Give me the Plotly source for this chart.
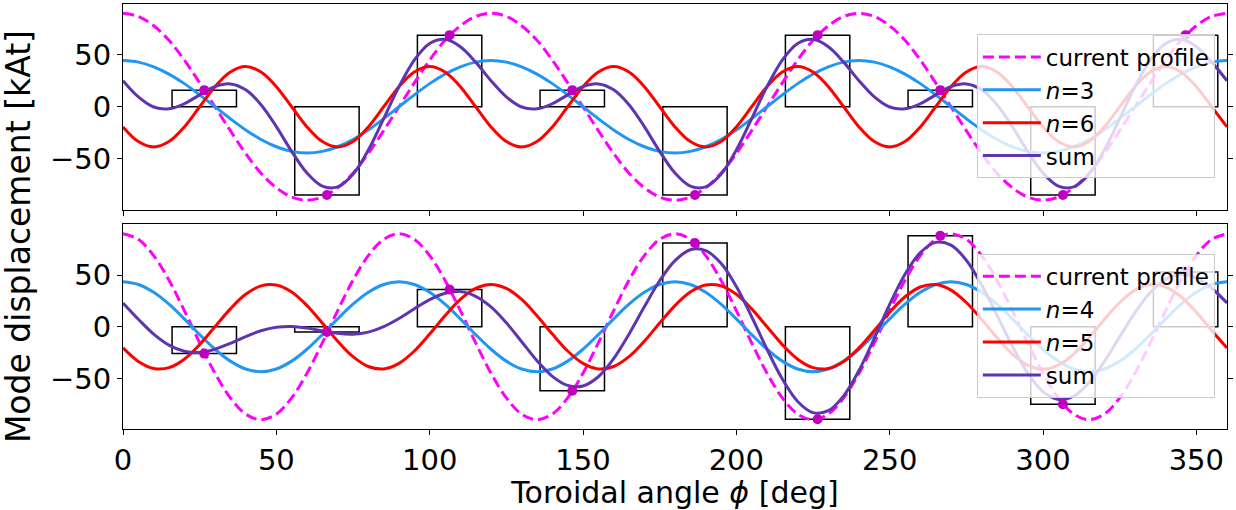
import plotly.graph_objects as go
from plotly.subplots import make_subplots

# ---------------- data ----------------
phi = list(range(0, 361, 5))

# top panel (n = 3 / 6)
top_profile = [90, 87, 78, 64, 45, 23, 0, -23, -45, -64, -78, -87, -90, -87, -78, -64, -45, -23, 0, 23, 45, 64, 78, 87,
               90, 87, 78, 64, 45, 23, 0, -23, -45, -64, -78, -87, -90, -87, -78, -64, -45, -23, 0, 23, 45, 64, 78, 87,
               90, 87, 78, 64, 45, 23, 0, -23, -45, -64, -78, -87, -90, -87, -78, -64, -45, -23, 0, 23, 45, 64, 78, 87,
               90]
top_n3 = [44.5, 43.0, 38.5, 31.5, 22.3, 11.5, 0, -11.5, -22.3, -31.5, -38.5, -43.0, -44.5, -43.0, -38.5, -31.5, -22.3, -11.5, 0, 11.5, 22.3, 31.5, 38.5, 43.0,
          44.5, 43.0, 38.5, 31.5, 22.3, 11.5, 0, -11.5, -22.3, -31.5, -38.5, -43.0, -44.5, -43.0, -38.5, -31.5, -22.3, -11.5, 0, 11.5, 22.3, 31.5, 38.5, 43.0,
          44.5, 43.0, 38.5, 31.5, 22.3, 11.5, 0, -11.5, -22.3, -31.5, -38.5, -43.0, -44.5, -43.0, -38.5, -31.5, -22.3, -11.5, 0, 11.5, 22.3, 31.5, 38.5, 43.0,
          44.5]
top_n6 = [-19.4, -33.5, -38.7, -33.5, -19.4, 0, 19.4, 33.5, 38.7, 33.5, 19.4, 0,
          -19.4, -33.5, -38.7, -33.5, -19.4, 0, 19.4, 33.5, 38.7, 33.5, 19.4, 0,
          -19.4, -33.5, -38.7, -33.5, -19.4, 0, 19.4, 33.5, 38.7, 33.5, 19.4, 0,
          -19.4, -33.5, -38.7, -33.5, -19.4, 0, 19.4, 33.5, 38.7, 33.5, 19.4, 0,
          -19.4, -33.5, -38.7, -33.5, -19.4, 0, 19.4, 33.5, 38.7, 33.5, 19.4, 0,
          -19.4, -33.5, -38.7, -33.5, -19.4, 0, 19.4, 33.5, 38.7, 33.5, 19.4, 0,
          -19.4]
top_sum = [25.1, 9.5, -0.2, -2.0, 2.9, 11.5, 19.4, 22.0, 16.4, 2.0, -19.1, -43.0, -63.9, -76.5, -77.2, -65.0, -41.7, -11.5, 19.4, 45.0, 61.0, 65.0, 57.9, 43.0,
           25.1, 9.5, -0.2, -2.0, 2.9, 11.5, 19.4, 22.0, 16.4, 2.0, -19.1, -43.0, -63.9, -76.5, -77.2, -65.0, -41.7, -11.5, 19.4, 45.0, 61.0, 65.0, 57.9, 43.0,
           25.1, 9.5, -0.2, -2.0, 2.9, 11.5, 19.4, 22.0, 16.4, 2.0, -19.1, -43.0, -63.9, -76.5, -77.2, -65.0, -41.7, -11.5, 19.4, 45.0, 61.0, 65.0, 57.9, 43.0,
           25.1]

# bottom panel (n = 4 / 5)
bot_profile = [90, 84.6, 68.9, 45, 15.6, -15.6, -45, -68.9, -84.6, -90, -84.6, -68.9, -45, -15.6, 15.6, 45, 68.9, 84.6,
               90, 84.6, 68.9, 45, 15.6, -15.6, -45, -68.9, -84.6, -90, -84.6, -68.9, -45, -15.6, 15.6, 45, 68.9, 84.6,
               90, 84.6, 68.9, 45, 15.6, -15.6, -45, -68.9, -84.6, -90, -84.6, -68.9, -45, -15.6, 15.6, 45, 68.9, 84.6,
               90, 84.6, 68.9, 45, 15.6, -15.6, -45, -68.9, -84.6, -90, -84.6, -68.9, -45, -15.6, 15.6, 45, 68.9, 84.6,
               90]
bot_n4 = [43.5, 40.9, 33.3, 21.8, 7.6, -7.6, -21.8, -33.3, -40.9, -43.5, -40.9, -33.3, -21.8, -7.6, 7.6, 21.8, 33.3, 40.9,
          43.5, 40.9, 33.3, 21.8, 7.6, -7.6, -21.8, -33.3, -40.9, -43.5, -40.9, -33.3, -21.8, -7.6, 7.6, 21.8, 33.3, 40.9,
          43.5, 40.9, 33.3, 21.8, 7.6, -7.6, -21.8, -33.3, -40.9, -43.5, -40.9, -33.3, -21.8, -7.6, 7.6, 21.8, 33.3, 40.9,
          43.5, 40.9, 33.3, 21.8, 7.6, -7.6, -21.8, -33.3, -40.9, -43.5, -40.9, -33.3, -21.8, -7.6, 7.6, 21.8, 33.3, 40.9,
          43.5]
bot_n5 = [-20.5, -33.6, -40.4, -39.6, -31.4, -17.3, 0, 17.3, 31.4, 39.6, 40.4, 33.6, 20.5, 3.6, -14.0, -29.0, -38.5, -40.8,
          -35.5, -23.5, -7.1, 10.6, 26.4, 37.1, 41.0, 37.1, 26.4, 10.6, -7.1, -23.5, -35.5, -40.8, -38.5, -29.0, -14.0, 3.6,
          20.5, 33.6, 40.4, 39.6, 31.4, 17.3, 0, -17.3, -31.4, -39.6, -40.4, -33.6, -20.5, -3.6, 14.0, 29.0, 38.5, 40.8,
          35.5, 23.5, 7.1, -10.6, -26.4, -37.1, -41.0, -37.1, -26.4, -10.6, 7.1, 23.5, 35.5, 40.8, 38.5, 29.0, 14.0, -3.6,
          -20.5]
bot_sum = [23.0, 7.3, -7.1, -17.8, -23.8, -24.9, -21.8, -16.0, -9.5, -3.9, -0.5, 0.3, -1.3, -4.0, -6.4, -7.2, -5.2, 0.1,
           8.0, 17.4, 26.2, 32.4, 34.0, 29.5, 19.2, 3.8, -14.5, -32.9, -48.0, -56.8, -57.3, -48.4, -30.9, -7.2, 19.3, 44.5,
           64.0, 74.5, 73.7, 61.4, 39.0, 9.7, -21.8, -50.6, -72.3, -83.1, -81.3, -66.9, -42.3, -11.2, 21.6, 50.8, 71.8, 81.7,
           79.0, 64.4, 40.4, 11.2, -18.8, -44.7, -62.8, -70.4, -67.3, -54.1, -33.8, -9.8, 13.7, 33.2, 46.1, 50.8, 47.3, 37.3,
           23.0]

# coil positions and displacements
coil_phi = [26.5, 66.5, 106.5, 146.5, 186.5, 226.5, 266.5, 306.5, 346.5]
top_coil = [16, -85, 69, 16, -85, 69, 16, -85, 69]
bot_coil = [-26, -5, 36, -62, 81, -89.5, 88, -75, 53]
coil_width = 21

# ---------------- styles ----------------
FONT = "DejaVu Sans"
C_PROF = "#ff00ff"
C_LOW = "#2196f3"
C_HIGH = "#ff0000"
C_SUM = "#5e35b1"
C_MARK = "#bf00bf"

fig = make_subplots(rows=2, cols=1, shared_xaxes=True, vertical_spacing=0.035)


def add_panel(row, prof, low, high, tot, coil, low_name, high_name, legend):
    fig.add_trace(go.Bar(x=coil_phi, y=coil, width=coil_width,
                         marker=dict(color="rgba(0,0,0,0)", line=dict(color="black", width=1.5)),
                         showlegend=False, hoverinfo="skip"), row=row, col=1)
    fig.add_trace(go.Scatter(x=phi, y=prof, mode="lines", name="current profile", legend=legend,
                             legendgroup=legend + "a",
                             line=dict(color=C_PROF, width=3, dash="11px,5px", shape="spline")), row=row, col=1)
    fig.add_trace(go.Scatter(x=phi, y=low, mode="lines", name=low_name, legend=legend,
                             legendgroup=legend + "b",
                             line=dict(color=C_LOW, width=3, shape="spline")), row=row, col=1)
    fig.add_trace(go.Scatter(x=phi, y=high, mode="lines", name=high_name, legend=legend,
                             legendgroup=legend + "c",
                             line=dict(color=C_HIGH, width=3, shape="spline")), row=row, col=1)
    fig.add_trace(go.Scatter(x=phi, y=tot, mode="lines", name="sum", legend=legend,
                             legendgroup=legend + "d",
                             line=dict(color=C_SUM, width=3, shape="spline")), row=row, col=1)
    fig.add_trace(go.Scatter(x=coil_phi, y=coil, mode="markers", showlegend=False,
                             marker=dict(color=C_MARK, size=10)), row=row, col=1)


add_panel(1, top_profile, top_n3, top_n6, top_sum, top_coil, "<i>n</i>=3", "<i>n</i>=6", "legend")
add_panel(2, bot_profile, bot_n4, bot_n5, bot_sum, bot_coil, "<i>n</i>=4", "<i>n</i>=5", "legend2")

axis_common = dict(showline=True, linecolor="black", linewidth=1, ticks="outside", ticklen=5,
                   tickwidth=1, tickcolor="black", showgrid=False, zeroline=False,
                   tickfont=dict(family=FONT, size=29, color="black"))

fig.update_xaxes(range=[0, 360], dtick=50, tick0=0, mirror=True, **axis_common)
fig.update_yaxes(range=[-99, 99], tickvals=[-50, 0, 50], ticktext=["\u221250", "0", "50"],
                 mirror="ticks", **axis_common)
fig.update_xaxes(showticklabels=False, row=1, col=1)
fig.update_xaxes(title=dict(text="Toroidal angle <i>\u03d5</i> [deg]", font=dict(family=FONT, size=30, color="black"),
                            standoff=2), row=2, col=1)

legend_common = dict(bgcolor="rgba(255,255,255,0.8)", bordercolor="#cccccc", borderwidth=1,
                     font=dict(family=FONT, size=23, color="black"), tracegroupgap=0, itemwidth=58)

fig.update_layout(
    width=1236, height=510,
    margin=dict(l=123, r=7, t=3, b=81),
    paper_bgcolor="white", plot_bgcolor="white",
    font=dict(family=FONT, color="black"),
    yaxis=dict(domain=[0.5164, 1.0]),
    yaxis2=dict(domain=[0.0, 0.4812]),
    legend=dict(x=0.989, xanchor="right", y=0.759, yanchor="middle", **legend_common),
    legend2=dict(x=0.989, xanchor="right", y=0.243, yanchor="middle", **legend_common),
    annotations=[dict(text="Mode displacement [kAt]", xref="paper", yref="paper", x=-0.094, y=0.452,
                      xanchor="center", yanchor="middle", textangle=-90, showarrow=False,
                      font=dict(family=FONT, size=33, color="black"))],
)

fig.write_html("out.html")
